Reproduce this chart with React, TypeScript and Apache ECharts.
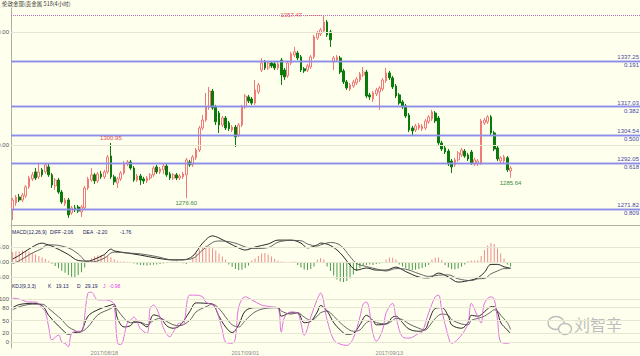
import React, { useEffect, useRef } from "react";
import * as echarts from "echarts";

// ---------- data ----------
const SLOTS = 192;

const opens = [
  1271.4, 1274.5, 1277.1, 1275.8, 1277.6, 1281.6, 1285.1, 1288.2, 1286.0, 1289.1,
  1288.2, 1290.4, 1286.9, 1282.0, 1284.6, 1279.3, 1274.1, 1275.8, 1270.1, 1272.3,
  1272.7, 1270.5, 1272.3, 1281.1, 1284.6, 1286.9, 1284.2, 1287.3, 1286.0, 1288.2,
  1295.2, 1286.0, 1283.3, 1285.1, 1287.7, 1291.7, 1292.6, 1289.9, 1284.6, 1286.4,
  1285.1, 1284.2, 1285.5, 1286.9, 1290.4, 1288.2, 1289.1, 1290.8, 1287.3, 1285.5,
  1286.9, 1285.5, 1286.0, 1286.9, 1292.6, 1291.3, 1294.4, 1297.9, 1307.6, 1311.1,
  1316.9, 1323.9, 1316.9, 1314.2, 1308.9, 1312.0, 1309.8, 1306.7, 1308.0, 1304.5,
  1308.9, 1316.9, 1321.3, 1320.4, 1318.6, 1323.5, 1333.2, 1336.7, 1334.1, 1336.3,
  1335.9, 1334.1, 1337.6, 1333.2, 1330.6, 1336.3, 1339.8, 1340.7, 1339.0, 1333.7,
  1333.2, 1334.5, 1339.0, 1347.3, 1349.1, 1350.4, 1354.4, 1350.0, 1336.7, 1337.6,
  1338.5, 1332.8, 1327.9, 1324.8, 1326.1, 1327.5, 1328.8, 1331.0, 1332.3, 1322.2,
  1320.4, 1322.6, 1323.5, 1324.8, 1328.4, 1331.9, 1329.7, 1326.1, 1322.2, 1319.1,
  1317.3, 1313.3, 1307.6, 1306.7, 1307.6, 1307.2, 1307.6, 1310.3, 1311.6, 1314.2,
  1312.0, 1301.0, 1298.8, 1297.4, 1293.0, 1291.3, 1293.5, 1295.7, 1297.4, 1295.7,
  1297.0, 1291.7, 1291.7, 1292.1, 1309.8, 1310.3, 1312.5, 1305.4, 1298.8, 1293.0,
  1293.0, 1294.4, 1288.6
];
const closes = [
  1275.8, 1277.1, 1275.8, 1278.0, 1281.6, 1285.5, 1286.9, 1285.5, 1288.2, 1286.9,
  1291.3, 1286.9, 1282.4, 1284.6, 1279.3, 1274.9, 1275.8, 1269.2, 1272.3, 1271.4,
  1270.9, 1272.7, 1281.1, 1285.1, 1286.9, 1284.2, 1287.3, 1286.0, 1288.2, 1294.8,
  1286.0, 1283.8, 1285.1, 1287.7, 1292.1, 1292.6, 1289.9, 1284.6, 1286.4, 1284.6,
  1284.2, 1285.5, 1286.9, 1289.9, 1288.2, 1289.5, 1290.8, 1286.9, 1285.5, 1286.9,
  1285.5, 1286.4, 1287.3, 1293.5, 1291.3, 1294.8, 1297.9, 1307.6, 1311.1, 1316.9,
  1323.9, 1316.4, 1310.3, 1308.9, 1312.0, 1307.6, 1307.2, 1308.0, 1303.6, 1308.9,
  1316.9, 1321.7, 1319.5, 1318.6, 1324.4, 1326.6, 1336.3, 1334.1, 1336.3, 1335.0,
  1334.1, 1335.9, 1331.0, 1330.1, 1336.3, 1340.3, 1341.2, 1338.5, 1333.2, 1332.8,
  1335.0, 1339.0, 1347.8, 1349.5, 1350.9, 1354.4, 1348.7, 1346.5, 1338.5, 1338.9,
  1332.3, 1327.9, 1325.3, 1326.6, 1327.9, 1329.2, 1331.4, 1332.3, 1321.7, 1321.3,
  1323.1, 1324.4, 1325.3, 1328.8, 1331.9, 1329.7, 1325.7, 1321.7, 1318.6, 1316.9,
  1312.9, 1306.7, 1306.3, 1308.5, 1308.9, 1308.5, 1310.7, 1312.5, 1314.7, 1310.7,
  1301.0, 1298.3, 1297.0, 1291.7, 1290.4, 1293.5, 1296.6, 1297.9, 1295.2, 1293.9,
  1292.1, 1293.5, 1293.0, 1310.7, 1311.1, 1312.5, 1305.4, 1298.3, 1293.9, 1294.4,
  1294.8, 1289.1, 1289.9
];
const lows = [
  1267.0, 1273.2, 1274.9, 1274.9, 1276.7, 1280.7, 1284.2, 1284.6, 1285.1, 1286.0,
  1287.3, 1286.0, 1281.1, 1280.2, 1278.5, 1274.1, 1273.2, 1267.9, 1269.2, 1270.5,
  1270.1, 1268.3, 1271.4, 1280.2, 1283.8, 1282.9, 1283.3, 1285.1, 1285.1, 1287.3,
  1285.1, 1282.4, 1281.1, 1284.2, 1286.9, 1290.8, 1289.1, 1283.8, 1283.8, 1282.4,
  1282.9, 1283.3, 1284.6, 1286.0, 1287.3, 1287.3, 1287.3, 1286.0, 1284.6, 1284.6,
  1284.6, 1284.6, 1285.1, 1276.6, 1290.4, 1290.4, 1293.5, 1297.0, 1306.7, 1310.3,
  1315.6, 1315.6, 1308.9, 1305.4, 1308.0, 1306.7, 1306.3, 1305.8, 1299.2, 1303.6,
  1308.0, 1316.0, 1318.6, 1317.8, 1317.8, 1322.6, 1332.3, 1333.2, 1333.2, 1334.1,
  1333.2, 1333.2, 1326.6, 1328.8, 1329.7, 1335.4, 1338.9, 1337.6, 1332.3, 1331.9,
  1332.3, 1333.7, 1338.1, 1346.5, 1348.2, 1349.5, 1347.8, 1343.4, 1333.2, 1336.7,
  1331.4, 1327.0, 1324.4, 1323.9, 1325.3, 1326.6, 1327.9, 1330.1, 1320.8, 1320.0,
  1319.1, 1321.7, 1315.6, 1323.9, 1327.5, 1328.8, 1324.8, 1320.8, 1317.8, 1316.0,
  1312.0, 1305.8, 1304.5, 1305.8, 1306.7, 1306.3, 1306.7, 1309.4, 1310.7, 1309.8,
  1300.1, 1297.4, 1296.1, 1290.8, 1287.7, 1290.4, 1292.6, 1294.8, 1294.4, 1293.0,
  1291.3, 1290.8, 1290.8, 1291.3, 1308.9, 1309.4, 1304.5, 1297.4, 1293.0, 1292.1,
  1292.1, 1288.2, 1285.64
];
const highs = [
  1276.7, 1278.0, 1278.5, 1278.9, 1282.4, 1286.4, 1288.2, 1289.9, 1292.1, 1289.9,
  1292.1, 1292.1, 1287.7, 1285.5, 1285.5, 1280.2, 1276.7, 1276.7, 1273.2, 1273.6,
  1273.6, 1273.6, 1282.0, 1286.0, 1289.9, 1287.7, 1288.2, 1288.6, 1289.1, 1295.7,
  1300.95, 1286.9, 1286.0, 1288.6, 1293.0, 1293.5, 1293.5, 1290.8, 1287.3, 1287.3,
  1286.0, 1286.4, 1287.7, 1290.8, 1291.3, 1290.4, 1291.7, 1291.7, 1288.2, 1287.7,
  1287.7, 1287.3, 1288.2, 1294.4, 1293.5, 1295.7, 1298.8, 1308.5, 1313.3, 1323.1,
  1325.7, 1324.8, 1317.8, 1315.1, 1312.9, 1312.9, 1310.7, 1308.9, 1308.9, 1309.8,
  1317.8, 1322.6, 1322.2, 1321.3, 1328.8, 1327.5, 1338.5, 1337.6, 1337.2, 1337.2,
  1336.7, 1336.7, 1338.5, 1334.1, 1337.2, 1341.2, 1343.4, 1341.6, 1339.8, 1334.5,
  1335.9, 1339.8, 1348.7, 1350.4, 1351.8, 1357.47, 1355.3, 1350.9, 1339.4, 1339.8,
  1339.4, 1333.7, 1328.8, 1327.5, 1328.8, 1330.1, 1332.3, 1334.5, 1333.2, 1323.1,
  1323.9, 1325.3, 1326.1, 1329.7, 1334.1, 1332.8, 1330.6, 1327.0, 1323.1, 1320.0,
  1318.2, 1314.2, 1308.5, 1309.4, 1309.8, 1309.4, 1311.6, 1313.3, 1315.6, 1315.1,
  1312.9, 1301.9, 1299.7, 1298.3, 1293.9, 1294.4, 1297.4, 1298.8, 1298.3, 1296.6,
  1297.9, 1294.4, 1293.9, 1311.6, 1312.0, 1313.3, 1313.3, 1306.3, 1299.7, 1295.2,
  1295.7, 1295.2, 1290.8
];

const fibPrices = [1337.25, 1317.03, 1304.54, 1292.05, 1271.82];
const fibRatios = ["0.191", "0.382", "0.500", "0.618", "0.809"];
const topPrice = 1357.47;
const priceGridValues = [1350, 1300];
const priceGridLabels = ["1350.00", "1300.00"];

const extremeIdx = [95, 30, 53, 152];
const extremePrice = [1357.47, 1300.95, 1276.6, 1285.64];
const extremeText = ["1357.47 ←——", "1300.95", "1276.60", "1285.64"];
const extremePos = ["left", "top", "bottom", "bottom"];
const extremeColor = ["#e05050", "#e05050", "#3a8a3a", "#3a8a3a"];

const macdHist = [
  3.3, 3.5, 3.6, 3.8, 3.7, 3.5, 3.0, 2.5, 2.0, 1.5,
  1.0, 0.4, -0.6, -1.3, -2.1, -2.9, -3.6, -4.3, -4.9, -5.0,
  -4.4, -3.4, -1.8, 0.6, 1.3, 1.9, 2.2, 2.3, 2.4, 2.1,
  1.6, 0.8, 0.3, 0.2, 0.2, 0.1, -0.2, -0.5, -0.8, -1.0,
  -1.1, -1.2, -1.0, -0.9, -0.8, -0.7, -0.5, -0.3, -0.2, 0.1,
  0.2, -0.2, -0.4, -0.7, -0.3, 1.5, 3.0, 4.2, 5.0, 5.5,
  5.3, 4.6, 3.8, 2.8, 1.8, 0.8, -0.8, -1.6, -2.3, -2.7,
  -2.6, -2.0, -1.2, 0.5, 1.2, 2.0, 2.8, 3.0, 2.5, 1.8,
  1.1, 0.5, 0.2, 0.1, -0.1, 0.1, 0.2, -1.0, -1.8, -2.5,
  -2.7, -2.3, -1.5, 0.8, 1.3, 0.8, -1.5, -3.0, -4.5, -5.8,
  -6.5, -6.7, -6.3, -5.5, -4.2, -3.0, -2.0, -1.2, -1.0, -0.8,
  -1.0, -0.7, -0.5, -0.3, 0.8, 1.5, 1.4, 0.8, -0.8, -1.5,
  -2.0, -2.5, -2.7, -2.6, -2.3, -2.0, -1.6, -1.0, 0.8, 1.5,
  1.5, 0.7, -1.0, -1.8, -2.4, -2.5, -2.2, -1.6, -0.8, 0.3,
  0.5, 0.5, 0.6, 2.0, 4.0, 5.5, 6.3, 6.0, 4.5, 2.8,
  1.2, -0.8, -1.5
];
const macdIdx = [0, 2, 6, 9, 10, 12, 17, 20, 23, 24, 28, 30, 31, 35, 39, 44, 49, 52, 55, 58, 61, 63, 66, 69, 71, 74, 78, 81, 85, 88, 90, 93, 94, 97, 100, 103, 105, 108, 111, 114, 117, 120, 124, 127, 130, 133, 136, 140, 142, 144, 146, 148, 150, 152];
const diffVals = [1.0, 2.2, 5.0, 6.3, 6.0, 5.3, 2.5, 0.5, 0.3, 0.5, 2.5, 4.3, 3.7, 3.0, 2.3, 1.3, 0.7, 0.7, 2.0, 6.3, 8.7, 8.0, 6.3, 4.7, 4.0, 5.0, 6.0, 7.3, 7.3, 6.3, 4.7, 5.7, 6.3, 5.5, 3.0, -1.0, -2.7, -2.0, -2.7, -2.7, -1.7, -3.2, -5.0, -5.3, -3.7, -5.0, -6.7, -6.0, -5.3, -3.5, -0.8, -0.8, -1.6, -2.06];
const deaVals = [-0.5, 0.4, 3.0, 4.5, 5.5, 5.7, 4.7, 2.7, 0.0, 0.0, 1.3, 3.0, 3.3, 3.0, 2.7, 1.8, 0.7, 0.8, 1.2, 4.0, 6.5, 7.0, 6.8, 5.9, 5.0, 4.5, 4.8, 6.6, 7.2, 7.1, 6.0, 5.3, 5.7, 6.5, 5.6, 1.8, -0.5, -1.5, -2.3, -3.0, -2.2, -2.4, -3.9, -4.8, -4.4, -4.3, -5.6, -6.2, -5.6, -5.5, -3.95, -3.0, -2.2, -2.2];
const macdGridValues = [5, 0, -5];
const macdGridLabels = ["5.00", "0.00", "-5.00"];

const kdIdx = [0, 2, 6, 9, 11, 13, 15, 17, 19, 20, 21, 23, 26, 30, 31, 32, 34, 36, 37, 39, 41, 43, 45, 47, 49, 51, 54, 56, 59, 61, 63, 65, 67, 69, 71, 74, 77, 81, 82, 85, 87, 89, 91, 93, 94, 96, 98, 100, 102, 104, 106, 108, 110, 111, 114, 116, 117, 119, 121, 124, 126, 127, 129, 131, 133, 134, 137, 139, 140, 142, 144, 146, 147, 148, 149, 151, 152];
const kVals = [80, 87, 90, 85, 62, 45, 30, 18, 22, 23, 25, 60, 75, 86, 88, 55, 35, 38, 47, 45, 35, 63, 58, 38, 32, 38, 70, 91, 90, 88, 60, 35, 22, 40, 72, 80, 80, 80, 60, 68, 68, 45, 48, 70, 85, 72, 45, 28, 18, 20, 40, 62, 50, 40, 42, 58, 60, 45, 30, 25, 30, 48, 78, 80, 60, 40, 32, 45, 62, 60, 70, 82, 82, 70, 45, 28, 19.13];
const dVals = [75, 82, 88, 88, 78, 65, 52, 35, 27, 23, 24, 35, 63, 78, 83, 75, 55, 45, 45, 46, 40, 50, 55, 48, 40, 38, 50, 70, 82, 88, 78, 58, 40, 35, 50, 70, 78, 80, 72, 65, 68, 58, 50, 60, 68, 72, 60, 45, 32, 25, 28, 45, 50, 45, 42, 50, 55, 52, 42, 32, 28, 35, 55, 65, 62, 52, 42, 40, 50, 55, 60, 70, 75, 72, 62, 45, 29.19];
const jIdx = [0, 2, 5, 7, 9, 10, 11, 12, 14, 15, 16, 17, 18, 20, 21, 23, 24, 26, 28, 30, 31, 32, 33, 35, 36, 37, 39, 41, 42, 43, 45, 46, 48, 49, 51, 52, 54, 56, 58, 59, 61, 62, 64, 65, 67, 68, 69, 71, 73, 76, 79, 81, 82, 83, 85, 87, 88, 89, 91, 93, 94, 96, 98, 100, 102, 104, 106, 107, 108, 110, 111, 113, 114, 116, 117, 119, 121, 124, 125, 127, 129, 130, 131, 133, 134, 137, 139, 140, 142, 143, 144, 146, 147, 148, 149, 151, 152];
const jVals = [102, 100, 93, 93, 79, 70, 35, 5, 16, 0, -3, -11, 20, 25, 25, 114, 116, 98, 98, 95, 86, -3, -6, 44, 51, 58, 31, 20, 79, 86, 58, 33, 12, 23, 44, 40, 109, 109, 105, 93, 86, 79, 28, 0, -3, 9, 81, 105, 98, 86, 82, 79, 23, 58, 70, 67, 44, 16, 58, 100, 114, 51, 5, -5, -8, 9, 58, 88, 93, 20, 2, 30, 68, 90, 58, 12, 9, 20, 23, 68, 105, 109, 74, 12, -3, 16, 44, 90, 58, 44, 90, 105, 100, 51, 0, -3, -0.98];
const kdjGridValues = [100, 80, 50, 20, 0];
const kdjGridLabels = ["100", "80", "50", "20", "0"];

const dateTickIdx = [28, 71, 115];
const dateTickText = ["2017/08/18", "2017/09/01", "2017/09/13"];

const titleText = "伦敦金现(贵金属 518(4小时)";
const macdLabelParts = ["MACD(12,26,9)", "DIFF", "-2.06", "DEA", "-2.20", "-1.76"];
const kdjLabelParts = ["KDJ(9,3,3)", "K", "19.13", "D", "29.19", "J", "-0.98"];
const watermarkText = "刘智辛";

// ---------- styling ----------
const BG = "#FFFFEE";
const FONT = '"Liberation Sans", "DejaVu Sans", sans-serif';
const CJK = '"Noto Sans CJK SC", sans-serif';
const SMALL = 6;
const LABEL = 5;
const FIB_COLOR = "#8c8cea";

function sparse(idx: number[], vals: number[]) {
  const a: (number | null)[] = new Array(SLOTS).fill(null);
  idx.forEach((k, j) => {
    a[k] = vals[j];
  });
  return a;
}

function gridLines(values: number[], labels: string[], color: string) {
  return values.map((v, i) => ({
    yAxis: v,
    lineStyle: { color, width: 1, type: "solid" },
    label: {
      show: true,
      position: "start",
      formatter: labels[i],
      fontSize: SMALL,
      fontFamily: FONT,
      color: "#555",
      distance: 2,
    },
  }));
}

function buildOption() {
  const cats = Array.from({ length: SLOTS }, (_, i) => String(i));
  const candleData = opens.map((o, i) => [o, closes[i], lows[i], highs[i]]);
  const histData: (number | null)[] = new Array(SLOTS).fill(null);
  macdHist.forEach((v, i) => (histData[i] = v));

  const fibMarks: any[] = [];
  fibPrices.forEach((p, i) => {
    fibMarks.push({
      yAxis: p,
      lineStyle: { color: FIB_COLOR, width: 1.3, type: "solid" },
      label: {
        show: true,
        position: "insideEndTop",
        formatter: p.toFixed(2),
        fontSize: SMALL,
        fontFamily: FONT,
        color: "#4848a8",
        distance: 1,
      },
    });
    fibMarks.push({
      yAxis: p,
      lineStyle: { color: FIB_COLOR, width: 1.3, type: "solid" },
      label: {
        show: true,
        position: "insideEndBottom",
        formatter: fibRatios[i],
        fontSize: SMALL,
        fontFamily: FONT,
        color: "#4848a8",
        distance: 1,
      },
    });
  });
  fibMarks.push({
    yAxis: topPrice,
    lineStyle: { color: "#b070c0", width: 1, type: "dotted" },
    label: { show: false },
  });

  const xAxisBase = (gridIndex: number, extra: any = {}) => ({
    type: "category",
    gridIndex,
    data: cats,
    boundaryGap: true,
    axisLine: { show: true, lineStyle: { color: "#b0b0a0", width: 1 } },
    axisTick: { show: false },
    axisLabel: { show: false },
    splitLine: { show: false },
    ...extra,
  });
  const yAxisBase = (gridIndex: number, min: number, max: number) => ({
    type: "value",
    gridIndex,
    min,
    max,
    axisLine: { show: true, lineStyle: { color: "#b0b0a0", width: 1 } },
    axisTick: { show: false },
    axisLabel: { show: false },
    splitLine: { show: false },
  });

  const txt = (x: number, y: number, text: string, fill: string, font = FONT, size = LABEL) => ({
    type: "text",
    x,
    y,
    silent: true,
    style: { text, fill, fontSize: size, fontFamily: font, verticalAlign: "middle", align: "left" },
  });

  return {
    animation: false,
    backgroundColor: BG,
    grid: [
      { left: 11, right: 0, top: 8, height: 217 },
      { left: 11, right: 0, top: 226, height: 57 },
      { left: 11, right: 0, top: 284, height: 64 },
    ],
    xAxis: [
      xAxisBase(0),
      xAxisBase(1),
      xAxisBase(2, {
        axisLabel: {
          show: true,
          interval: (idx: number) => dateTickIdx.includes(idx),
          formatter: (_v: string, idx: number) => {
            const j = dateTickIdx.indexOf(idx);
            return j >= 0 ? dateTickText[j] : "";
          },
          fontSize: 5.5,
          fontFamily: FONT,
          color: "#888",
          margin: 2,
        },
      }),
    ],
    yAxis: [yAxisBase(0, 1264.76, 1360.56), yAxisBase(1, -7, 12), yAxisBase(2, -14, 135)],
    series: [
      {
        type: "candlestick",
        xAxisIndex: 0,
        yAxisIndex: 0,
        data: candleData,
        barWidth: 2.2,
        itemStyle: {
          color: BG,
          borderColor: "#f07a7a",
          color0: "#0a7a0a",
          borderColor0: "#0a7a0a",
          borderWidth: 1,
        },
        markLine: {
          silent: true,
          symbol: ["none", "none"],
          animation: false,
          data: [...gridLines(priceGridValues, priceGridLabels, "#e6e6d2"), ...fibMarks],
        },
        markPoint: {
          silent: true,
          symbol: "circle",
          symbolSize: 0,
          animation: false,
          data: extremeIdx.map((k, j) => ({
            coord: [cats[k], extremePrice[j]],
            label: {
              show: true,
              position: extremePos[j],
              formatter: extremeText[j],
              color: extremeColor[j],
              fontSize: SMALL,
              fontFamily: FONT,
              distance: 2,
            },
          })),
        },
      },
      {
        type: "bar",
        xAxisIndex: 1,
        yAxisIndex: 1,
        data: histData,
        barWidth: 1,
        itemStyle: {
          color: (p: any) => (p.value >= 0 ? "#f08c8c" : "#4a9a4a"),
        },
        markLine: {
          silent: true,
          symbol: ["none", "none"],
          animation: false,
          data: gridLines(macdGridValues, macdGridLabels, "#e6e6d2"),
        },
      },
      {
        type: "line",
        xAxisIndex: 1,
        yAxisIndex: 1,
        data: sparse(macdIdx, diffVals),
        connectNulls: true,
        smooth: 0.35,
        showSymbol: false,
        lineStyle: { color: "#111", width: 0.9 },
      },
      {
        type: "line",
        xAxisIndex: 1,
        yAxisIndex: 1,
        data: sparse(macdIdx, deaVals),
        connectNulls: true,
        smooth: 0.35,
        showSymbol: false,
        lineStyle: { color: "#555", width: 0.9 },
      },
      {
        type: "line",
        xAxisIndex: 2,
        yAxisIndex: 2,
        data: sparse(kdIdx, kVals),
        connectNulls: true,
        smooth: 0.35,
        showSymbol: false,
        lineStyle: { color: "#111", width: 0.9 },
        markLine: {
          silent: true,
          symbol: ["none", "none"],
          animation: false,
          data: gridLines(kdjGridValues, kdjGridLabels, "#e6e6d2"),
        },
      },
      {
        type: "line",
        xAxisIndex: 2,
        yAxisIndex: 2,
        data: sparse(kdIdx, dVals),
        connectNulls: true,
        smooth: 0.35,
        showSymbol: false,
        lineStyle: { color: "#555", width: 0.9 },
      },
      {
        type: "line",
        xAxisIndex: 2,
        yAxisIndex: 2,
        data: sparse(jIdx, jVals),
        connectNulls: true,
        smooth: 0.35,
        showSymbol: false,
        lineStyle: { color: "#e060e0", width: 0.9 },
      },
    ],
    graphic: [
      txt(2, 4, titleText, "#333", CJK, 5.5),
      txt(12, 232, macdLabelParts[0], "#202060"),
      txt(50, 232, macdLabelParts[1], "#202060"),
      txt(62, 232, macdLabelParts[2], "#202060"),
      txt(83, 232, macdLabelParts[3], "#202060"),
      txt(96, 232, macdLabelParts[4], "#202060"),
      txt(120, 232, macdLabelParts[5], "#202060"),
      txt(12, 286, kdjLabelParts[0], "#202060"),
      txt(48, 286, kdjLabelParts[1], "#202060"),
      txt(56, 286, kdjLabelParts[2], "#202060"),
      txt(77, 286, kdjLabelParts[3], "#202060"),
      txt(85, 286, kdjLabelParts[4], "#202060"),
      txt(103, 286, kdjLabelParts[5], "#e040e0"),
      txt(109, 286, kdjLabelParts[6], "#e040e0"),
      {
        type: "ellipse",
        silent: true,
        shape: { cx: 556, cy: 323, rx: 8, ry: 6.5 },
        style: { fill: BG, stroke: "#bdbdbd", lineWidth: 1.4 },
      },
      {
        type: "ellipse",
        silent: true,
        shape: { cx: 565, cy: 329, rx: 6.5, ry: 5.5 },
        style: { fill: BG, stroke: "#bdbdbd", lineWidth: 1.4 },
      },
      txt(574, 324, watermarkText, "#bdbdbd", CJK, 16),
    ],
  };
}

export default function App() {
  const ref = useRef<HTMLDivElement>(null);
  useEffect(() => {
    document.body.style.margin = "0";
    const chart = echarts.init(ref.current!, null, { renderer: "svg" });
    chart.setOption(buildOption() as any);
    return () => chart.dispose();
  }, []);
  return <div ref={ref} style={{ width: 640, height: 356 }} />;
}
